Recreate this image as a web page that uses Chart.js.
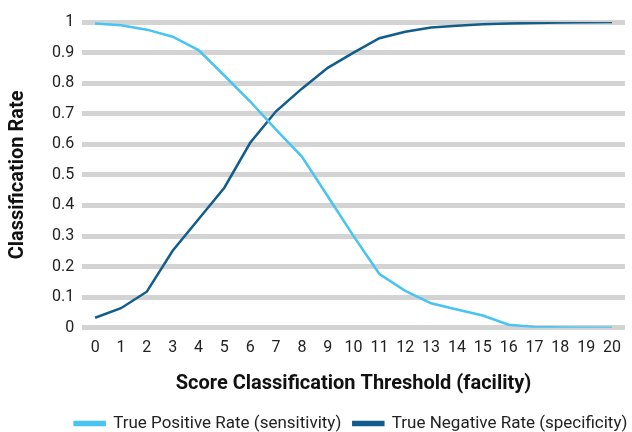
<!DOCTYPE html>
<html>
<head>
<meta charset="utf-8">
<script src="https://cdn.jsdelivr.net/npm/chart.js@4/dist/chart.umd.min.js"></script>
<style>
html,body{margin:0;padding:0;background:#fff;}
#wrap{width:632px;height:432px;}
</style>
</head>
<body>
<div id="wrap"><canvas id="c" width="632" height="432"></canvas></div>
<script>
const thresholds = ['0','1','2','3','4','5','6','7','8','9','10','11','12','13','14','15','16','17','18','19','20'];
const truePositiveRate = [0.995,0.989,0.975,0.952,0.908,0.825,0.740,0.648,0.560,0.430,0.300,0.176,0.121,0.080,0.060,0.040,0.010,0.003,0.001,0.000,0.000];
const trueNegativeRate = [0.033,0.064,0.118,0.252,0.355,0.458,0.605,0.708,0.782,0.850,0.900,0.947,0.968,0.982,0.988,0.993,0.995,0.997,0.998,0.999,1.000];
const yTicks = [0,0.1,0.2,0.3,0.4,0.5,0.6,0.7,0.8,0.9,1];

const FONT = 'Roboto';
const legendShift = {
  id: 'legendShift',
  afterLayout(chart) {
    const l = chart.legend;
    if (!l) return;
    l.left += 32; l.right += 32;
    l.top += 3; l.bottom += 3;
  }
};
new Chart(document.getElementById('c'), {
  type: 'line',
  data: {
    labels: thresholds,
    datasets: [
      {label: 'True Positive Rate (sensitivity)', data: truePositiveRate, borderColor: '#47c4f2', backgroundColor: '#47c4f2', borderWidth: 2.5, pointRadius: 0, tension: 0, fill: false},
      {label: 'True Negative Rate (specificity)', data: trueNegativeRate, borderColor: '#115d8c', backgroundColor: '#115d8c', borderWidth: 2.5, pointRadius: 0, tension: 0, fill: false}
    ]
  },
  options: {
    responsive: false,
    animation: false,
    layout: {padding: {left: 6, right: 0, top: 22, bottom: -7}},
    plugins: {
      legend: {
        position: 'bottom',
        labels: {boxWidth: 30, boxHeight: 3, color: '#222', font: {family: FONT, size: 17}, padding: 12}
      },
      tooltip: {enabled: false}
    },
    scales: {
      x: {
        offset: true,
        grid: {display: false, drawTicks: false},
        border: {display: false},
        ticks: {color: '#222', font: {family: FONT, size: 16}, padding: 11, maxRotation: 0, autoSkip: false},
        title: {display: true, text: 'Score Classification Threshold (facility)', color: '#111', font: {family: FONT, size: 20, weight: 'bold'}, padding: {top: 3, bottom: 4}}
      },
      y: {
        min: 0, max: 1,
        afterBuildTicks: (s) => { s.ticks = yTicks.map(v => ({value: v})); },
        grid: {color: '#d3d3d3', lineWidth: 5, drawTicks: false},
        border: {display: false},
        ticks: {color: '#222', font: {family: FONT, size: 16}, padding: 8, callback: (v) => String(Math.round(v*10)/10)},
        title: {display: true, text: 'Classification Rate', color: '#111', font: {family: FONT, size: 20, weight: 'bold'}, padding: {top: 0, bottom: 14}}
      }
    }
  },
  plugins: [legendShift]
});
</script>
</body>
</html>
